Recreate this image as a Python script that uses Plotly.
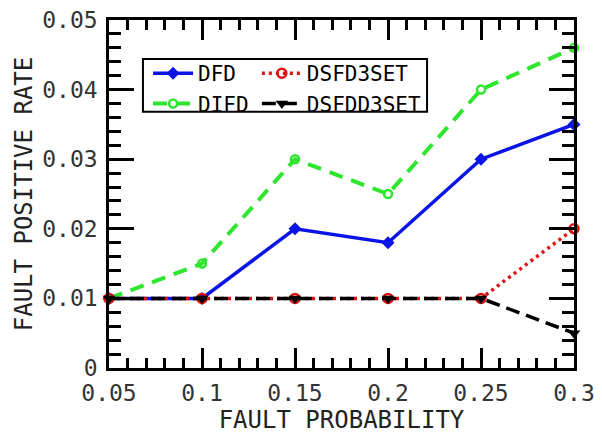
import plotly.graph_objects as go

# Fault-injection results: fault positive rate vs. fault probability
fault_prob = [0.05, 0.1, 0.15, 0.2, 0.25, 0.3]
dfd = [0.01, 0.01, 0.02, 0.018, 0.03, 0.035]
difd = [0.01, 0.015, 0.03, 0.025, 0.04, 0.046]
dsfd3set = [0.01, 0.01, 0.01, 0.01, 0.01, 0.02]
dsfdd3set = [0.01, 0.01, 0.01, 0.01, 0.01, 0.005]

x_range = [0.05, 0.3]
y_range = [0, 0.05]
x_major, x_minor = 0.05, 0.01
y_major, y_minor = 0.01, 0.002

FONT = "DejaVu Sans Mono"

fig = go.Figure()

fig.add_trace(go.Scatter(
    x=fault_prob, y=dfd, name="DFD", mode="lines+markers",
    line=dict(color="#0a14e6", width=3.5),
    marker=dict(symbol="diamond", size=10, color="#0a14e6"),
    cliponaxis=False, legend="legend"))
fig.add_trace(go.Scatter(
    x=fault_prob, y=difd, name="DIFD", mode="lines+markers",
    line=dict(color="#2ee62e", width=4, dash="14px,9px"),
    marker=dict(symbol="circle-open", size=8, color="#2ee62e", line=dict(width=2.5)),
    cliponaxis=False, legend="legend"))
fig.add_trace(go.Scatter(
    x=fault_prob, y=dsfd3set, name="DSFD3SET", mode="lines+markers",
    line=dict(color="#e01010", width=3.5, dash="3px,4px"),
    marker=dict(symbol="circle-open", size=9, color="#e01010", line=dict(width=2.5)),
    cliponaxis=False, legend="legend2"))
fig.add_trace(go.Scatter(
    x=fault_prob, y=dsfdd3set, name="DSFDD3SET", mode="lines+markers",
    line=dict(color="black", width=3.5, dash="14px,7px"),
    marker=dict(symbol="triangle-down", size=11, color="black"),
    cliponaxis=False, legend="legend2"))

tick_font = dict(family=FONT, size=23, color="#333")
title_font = dict(family=FONT, size=24, color="#222")

legend_box = dict(type="rect", xref="paper", yref="paper",
                  x0=0.073, x1=0.684, y0=0.736, y1=0.888,
                  line=dict(color="black", width=2), fillcolor="rgba(0,0,0,0)")

fig.update_layout(
    width=602, height=434,
    margin=dict(l=109, r=28, t=20, b=66),
    paper_bgcolor="white", plot_bgcolor="white",
    xaxis=dict(
        range=x_range, tickmode="linear", tick0=x_range[0], dtick=x_major,
        ticks="inside", ticklen=20, tickwidth=3, tickcolor="black",
        minor=dict(tickmode="linear", tick0=x_range[0], dtick=x_minor,
                   ticks="inside", ticklen=10, tickwidth=3, tickcolor="black"),
        showline=True, linecolor="black", linewidth=2.5, mirror="ticks",
        showgrid=False, zeroline=False, automargin=False,
        tickfont=tick_font, ticklabelstandoff=3,
        title=dict(text="FAULT PROBABILITY", font=title_font, standoff=14)),
    yaxis=dict(
        range=y_range, tickmode="linear", tick0=y_range[0], dtick=y_major,
        ticks="inside", ticklen=25, tickwidth=3, tickcolor="black",
        minor=dict(tickmode="linear", tick0=y_range[0], dtick=y_minor,
                   ticks="inside", ticklen=12, tickwidth=3, tickcolor="black"),
        showline=True, linecolor="black", linewidth=2.5, mirror="ticks",
        showgrid=False, zeroline=False, automargin=False,
        tickfont=tick_font, ticklabelstandoff=4,
        title=dict(text="FAULT POSITIVE RATE", font=title_font, standoff=3)),
    legend=dict(x=0.084, y=0.905, xanchor="left", yanchor="top",
                bgcolor="rgba(0,0,0,0)", font=dict(family=FONT, size=21, color="black"),
                tracegroupgap=0, itemwidth=40),
    legend2=dict(x=0.318, y=0.905, xanchor="left", yanchor="top",
                 bgcolor="rgba(0,0,0,0)", font=dict(family=FONT, size=21, color="black"),
                 tracegroupgap=0, itemwidth=40),
    shapes=[legend_box],
)

fig.write_html("out.html")
